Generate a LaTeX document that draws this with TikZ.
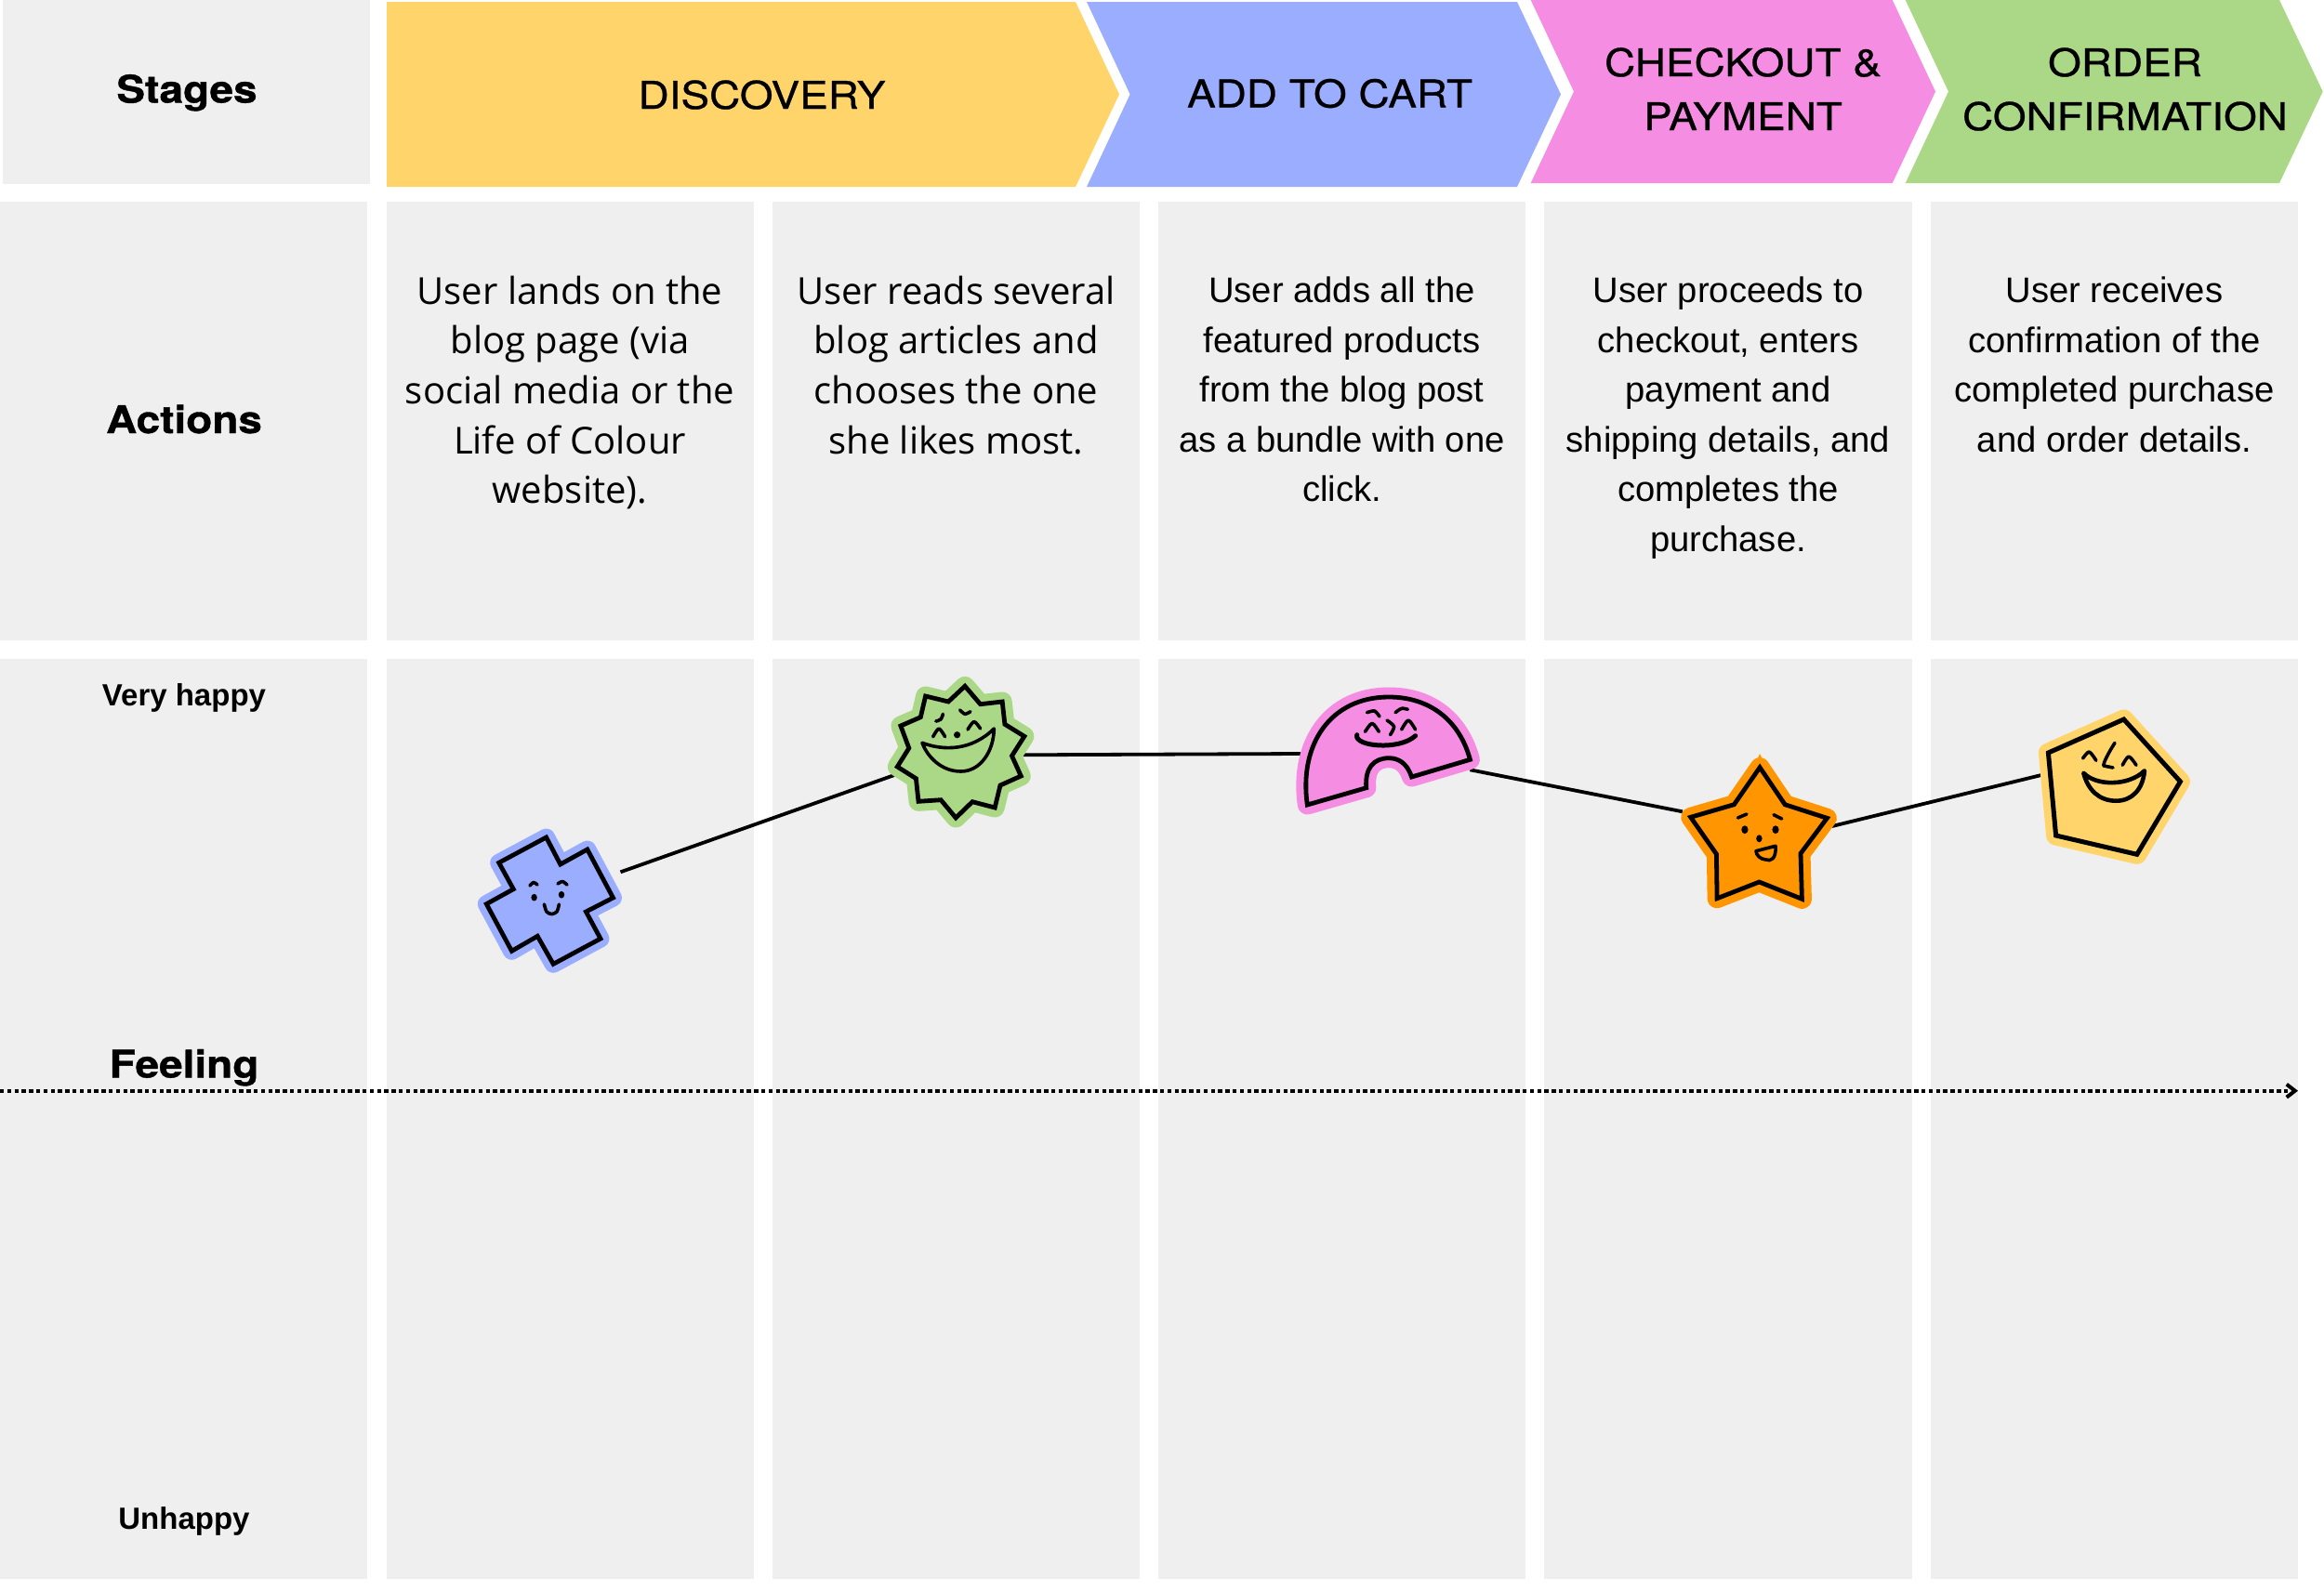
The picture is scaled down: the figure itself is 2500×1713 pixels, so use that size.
\documentclass[tikz,border=0pt]{standalone}
\usepackage{fontspec}
\usetikzlibrary{arrows.meta}
\setmainfont{Liberation Sans}
\newfontfamily\wideheavy[FakeStretch=1.12,FakeBold=0.7,BoldFeatures={FakeStretch=1.12,FakeBold=0.9}]{TeX Gyre Heros}
\newfontfamily\bodyb{Open Sans}
\definecolor{cellgrey}{HTML}{EFEFEF}
\definecolor{cyellow}{HTML}{FFD56B}
\definecolor{cblue}{HTML}{9BADFF}
\definecolor{cpink}{HTML}{F58EE2}
\definecolor{cgreen}{HTML}{ABD886}
\definecolor{corange}{HTML}{FF9500}
\tikzset{
  cell/.style={fill=cellgrey},
  conn/.style={line width=3.8pt,black},
  halo/.style={line width=21pt,line join=round},
  ink/.style={line width=4.8pt,black,line join=miter},
  face/.style={line width=3.6pt,black,line cap=round,line join=round},
  stagetxt/.style={font=\wideheavy\fontsize{41}{58.5}\selectfont,align=center,inner sep=0pt,anchor=base,text=black},
  rowtitle/.style={font=\wideheavy\bfseries\fontsize{41}{50}\selectfont,inner sep=0pt,anchor=base,text=black},
  sidetxt/.style={font=\bfseries\fontsize{33}{40}\selectfont,inner sep=0pt,anchor=base,text=black},
  acta/.style={font=\bodyb\fontsize{40}{53.6}\selectfont,align=center,inner sep=0pt,anchor=north,text=black},
  actb/.style={font=\fontsize{38.2}{53.5}\selectfont,align=center,inner sep=0pt,anchor=north,text=black},
}
\newcommand{\topl}{\rule{0pt}{30pt}}
\begin{document}
\begin{tikzpicture}[x=1pt,y=-1pt]
\useasboundingbox (0,0) rectangle (2500,1713);
% grey cells
\fill[cell] (3,0) rectangle (398,197.5);
\fill[cell] (0,217) rectangle (395,689);
\fill[cell] (0,709) rectangle (395,1698.5);
\foreach \xa/\xb in {416/811,831/1226,1246/1641,1661/2057,2077/2472}{
  \fill[cell] (\xa,217) rectangle (\xb,689);
  \fill[cell] (\xa,709) rectangle (\xb,1698.5);
}
% stage chevrons
\fill[cyellow] (416,2) -- (1157,2) -- (1204,101.5) -- (1157,201) -- (416,201) -- cycle;
\fill[cblue] (1169,2) -- (1632,2) -- (1679,101.5) -- (1632,201) -- (1169,201) -- (1215.6,101.5) -- cycle;
\fill[cpink] (1646.7,0) -- (2035.7,0) -- (2082,98.5) -- (2035.7,197) -- (1646.7,197) -- (1693,98.5) -- cycle;
\fill[cgreen] (2049.7,0) -- (2452,0) -- (2498.7,98.5) -- (2452,197) -- (2049.7,197) -- (2096,98.5) -- cycle;
% stage texts
\node[stagetxt] (tdisc) at (819.5,117) {DISCOVERY};
\node[stagetxt] (tcart) at (1430.5,115.5) {ADD TO CART};
\node[stagetxt] (tpay1) at (1875,82) {CHECKOUT \&};
\node[stagetxt] (tpay2) at (1875,140) {PAYMENT};
\node[stagetxt] (tord1) at (2286,82) {ORDER};
\node[stagetxt] (tord2) at (2286,140) {CONFIRMATION};
% row titles
\node[rowtitle] (stages) at (201,110.5) {Stages};
\node[rowtitle] (actions) at (198,466) {Actions};
\node[rowtitle] (feeling) at (198,1159.5) {Feeling};
\node[sidetxt] (vhappy) at (198,759) {Very happy};
\node[sidetxt] (unhappy) at (198,1645) {Unhappy};
% action texts
\node[acta] (a1) at (613,296.7) {\topl User lands on the\\blog page (via\\social media or the\\Life of Colour\\website).};
\node[acta] (a2) at (1028.5,296.7) {\topl User reads several\\blog articles and\\chooses the one\\she likes most.};
\node[actb] (a3) at (1443.5,295.3) {\topl User adds all the\\featured products\\from the blog post\\as a bundle with one\\click.};
\node[actb] (a4) at (1859,295.3) {\topl User proceeds to\\checkout, enters\\payment and\\shipping details, and\\completes the\\purchase.};
\node[actb] (a5) at (2274.5,295.3) {\topl User receives\\confirmation of the\\completed purchase\\and order details.};
% feeling axis
\coordinate (axisL) at (0,1173.7);
\coordinate (axisR) at (2472,1173.7);
\draw[line width=4.4pt,dash pattern=on 4.4pt off 3.4pt,-{Straight Barb[length=9pt,width=14pt,line width=4pt]}] (axisL) -- (axisR);
% connector end points
\coordinate (crossR) at (667.5,938.3);
\coordinate (sunL) at (962.1,834);
\coordinate (sunR) at (1100.5,812.3);
\coordinate (archL) at (1399.5,811);
\coordinate (archR) at (1581.4,828.3);
\coordinate (starL) at (1809.9,873.3);
\coordinate (starR) at (1970.8,889);
\coordinate (pentL) at (2198.7,833.3);
\draw[conn] (crossR) -- (sunL);
\draw[conn] (sunR) -- (archL);
\draw[conn] (archR) -- (starL);
\draw[conn] (starR) -- (pentL);
% cross character
\def\crosspath{(587.6,901) -- (602.8,930) -- (631.8,914) -- (659.5,966) -- (630.4,981) -- (646,1010) -- (595.2,1037.3) -- (578.2,1007.3) -- (550.5,1023.3) -- (523.3,972.7) -- (552.3,956.7) -- (536.7,928.3) -- cycle}
\draw[halo,line width=19pt,draw=cblue,fill=cblue] \crosspath;
\draw[ink] \crosspath;
\draw[face] plot[smooth] coordinates {(570,953) (574,949.5) (578,952)};
\draw[face] plot[smooth] coordinates {(600,951) (605,948.5) (610,952)};
\fill (574.6,965.7) ellipse (3.2 and 3.8);
\fill (604,962.7) ellipse (3.2 and 3.8);
\draw[face] plot[smooth] coordinates {(585.4,973) (588,981) (593.4,983.5) (599,981) (601.4,973)};
% sun character
\def\sunpath{(1038,738.3) -- (1054.6,757.7) -- (1078.2,755) -- (1080.9,779.3) -- (1101.9,792.3) -- (1088.5,813.3) -- (1098.3,835) -- (1076,845) -- (1070.2,869) -- (1046,862.7) -- (1028.2,880) -- (1012.1,860.7) -- (988,862.3) -- (985.4,837.7) -- (965.3,825) -- (977.8,805) -- (968.9,781) -- (990.3,771.7) -- (995.6,749) -- (1020.2,755) -- cycle}
\draw[halo,draw=cgreen,fill=cgreen] \sunpath;
\draw[ink] \sunpath;
\draw[face] (992,799.3) .. controls (1015,808) and (1045,808) .. (1069.3,784) .. controls (1069,808) and (1055,830) .. (1033.6,830) .. controls (1013,830) and (998,815) .. (992,799.3) -- cycle;
\draw[face] plot[smooth] coordinates {(1003.7,792.7) (1010,784) (1016.6,792.7)};
\draw[face] plot[smooth] coordinates {(1041,785) (1047.8,776.5) (1054.6,784)};
\fill (1029.6,790.7) circle (3.6);
\draw[face] plot[smooth] coordinates {(1006.8,776) (1012,774) (1014.4,768.3)};
\draw[face] plot[smooth] coordinates {(1032.7,764) (1038,768.3) (1043.9,765.7)};
% arch character
\def\archpath{(1406.3,866) .. controls (1397,800) and (1432,750) .. (1494,750) .. controls (1538,750) and (1570,775) .. (1581.4,817.3) -- (1518.5,836) .. controls (1514,822) and (1505,815.7) .. (1494.2,815.7) .. controls (1478,815.7) and (1468,826) .. (1469.8,847.7) -- cycle}
\draw[halo,draw=cpink,fill=cpink] \archpath;
\draw[ink] \archpath;
\draw[face] plot[smooth] coordinates {(1468.5,787.3) (1476,778.3) (1483.3,787.3)};
\draw[face] plot[smooth] coordinates {(1507.7,785) (1515,775) (1522.6,785)};
\draw[face] plot[smooth] coordinates {(1470.5,766.7) (1478.6,765) (1484,771)};
\draw[face] plot[smooth] coordinates {(1501,766.7) (1507.7,762.3) (1514.4,763.3)};
\draw[face] plot[smooth] coordinates {(1492,775) (1499.6,781.7) (1495.5,790.7)};
\draw[face,line width=5pt] (1459.7,790.7) .. controls (1456,803) and (1505,808) .. (1522.6,791.7);
% star character
\def\starpath{(1893.1,825.7) -- (1920.1,865.7) -- (1965.4,880.3) -- (1937,918.3) -- (1938.4,967.3) -- (1892.4,949) -- (1847.1,966.7) -- (1846.4,919) -- (1818.7,879.3) -- (1865.4,865.7) -- cycle}
\fill[corange] (1893.1,811) -- (1902,830) -- (1884,830) -- cycle;
\draw[halo,draw=corange,fill=corange] \starpath;
\draw[ink] \starpath;
\draw[face] (1869.4,880) -- (1878.9,876);
\draw[face] (1908,876.7) -- (1916.7,881);
\fill (1876.9,892.7) ellipse (3.6 and 4.4);
\fill (1910,892.7) ellipse (3.6 and 4.4);
\fill (1892.4,902.3) ellipse (3.2 and 4);
\draw[face] (1889,915.7) -- (1910,910.3) .. controls (1911,925) and (1904,927) .. (1899.9,925) .. controls (1894,925) and (1889,920) .. (1889,915.7) -- cycle;
% pentagon character
\def\pentpath{(2284.6,774) -- (2345.4,841) -- (2298.8,919.3) -- (2211.6,899) -- (2203.4,810) -- cycle}
\draw[halo,draw=cyellow,fill=cyellow] \pentpath;
\draw[ink,line width=5pt] \pentpath;
\draw[face] plot[smooth] coordinates {(2240.6,816) (2247.4,809) (2254.8,818.3)};
\draw[face] plot[smooth] coordinates {(2283.2,823.3) (2290,814) (2298,823.3)};
\draw[face] (2275,799.3) .. controls (2268,810) and (2262,822) .. (2263,824) -- (2273,826);
\draw[face,line width=4.6pt] (2241.3,831.7) .. controls (2255,846) and (2290,846) .. (2306.9,829.3) .. controls (2305,850) and (2293,861.7) .. (2276.4,861.7) .. controls (2258,861.7) and (2246,850) .. (2241.3,831.7) -- cycle;
\end{tikzpicture}
\end{document}
